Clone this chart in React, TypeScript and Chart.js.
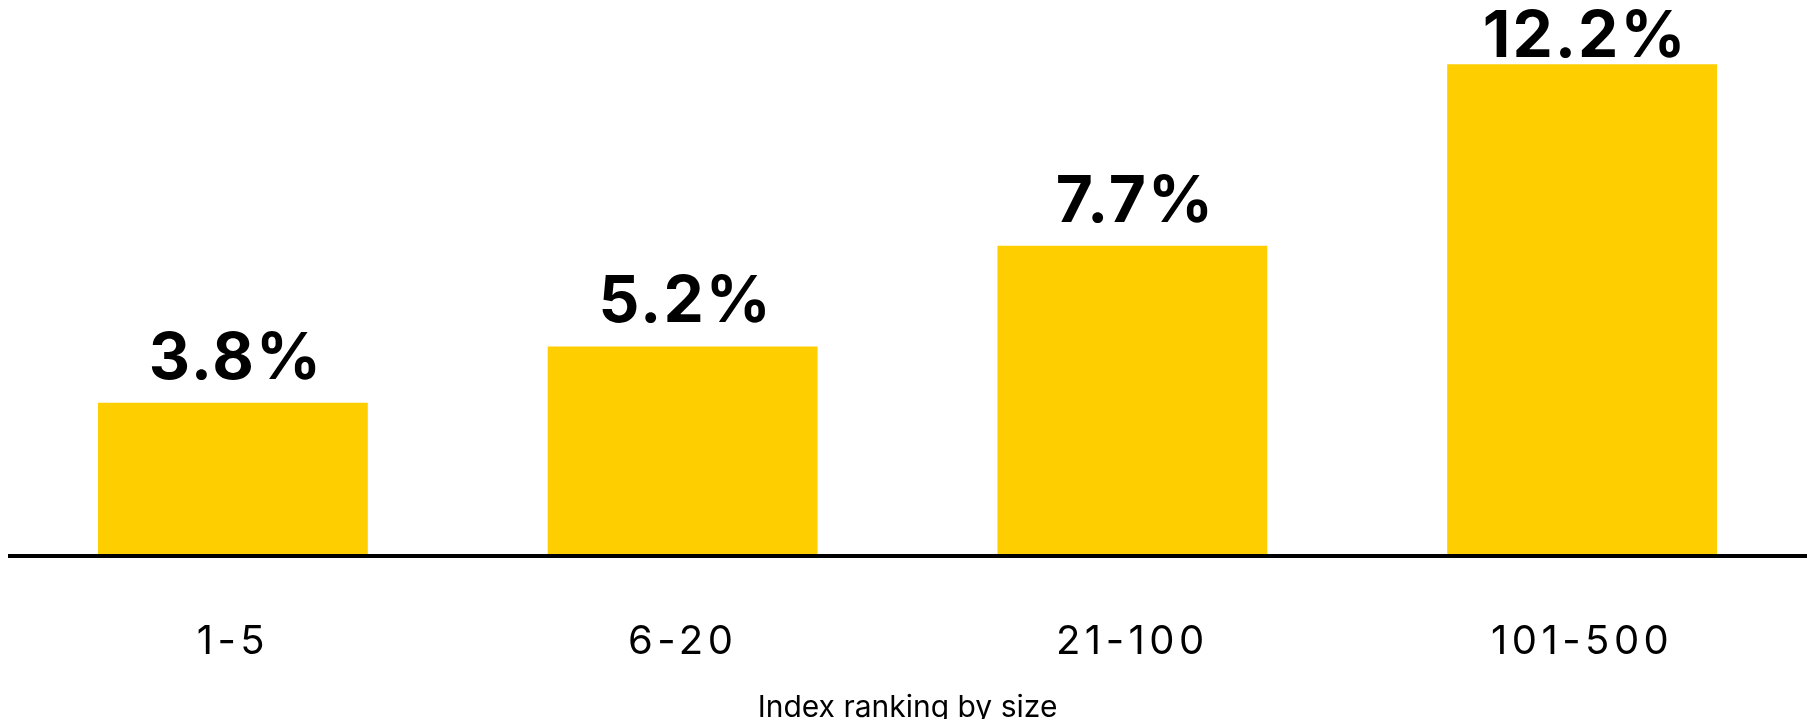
import React, { useEffect, useRef } from "react";
import { Chart, registerables } from "chart.js";

Chart.register(...registerables);

const categories: string[] = ["1-5", "6-20", "21-100", "101-500"];
const values: number[] = [3.8, 5.2, 7.7, 12.2];
const valueLabels: string[] = ["3.8%", "5.2%", "7.7%", "12.2%"];
const axisTitle = "Index ranking by size";

const FONT = "Inter, 'Noto Sans', sans-serif";

const valueLabelPlugin = {
  id: "valueLabels",
  afterDatasetsDraw(chart: any) {
    // wider tracking for the category tick labels drawn after the datasets
    (chart.ctx as any).letterSpacing = "4.5px";
  },
  afterDraw(chart: any) {
    const ctx = chart.ctx;
    const meta = chart.getDatasetMeta(0);
    const area = chart.chartArea;
    ctx.save();
    (ctx as any).letterSpacing = "2px";
    ctx.font = `bold 64px ${FONT}`;
    ctx.fillStyle = "#000000";
    ctx.textAlign = "center";
    ctx.textBaseline = "alphabetic";
    meta.data.forEach((bar: any, i: number) => {
      const y = Math.max(bar.y - 24, area.top + 25);
      ctx.fillText(valueLabels[i], bar.x + 3, y);
    });
    ctx.restore();
    (ctx as any).letterSpacing = "0px";
  },
};

export default function App() {
  const ref = useRef<HTMLCanvasElement | null>(null);
  useEffect(() => {
    if (!ref.current) return;
    const chart = new Chart(ref.current, {
      type: "bar",
      data: {
        labels: categories,
        datasets: [
          {
            data: values,
            backgroundColor: "#FFCE00",
            borderWidth: 0,
            barPercentage: 0.6,
            categoryPercentage: 1,
          },
        ],
      },
      options: {
        animation: false,
        responsive: true,
        maintainAspectRatio: false,
        layout: { padding: { top: 24, left: 0, right: 0, bottom: 0 } },
        plugins: {
          legend: { display: false },
          tooltip: { enabled: false },
        },
        scales: {
          x: {
            grid: {
              display: true,
              drawOnChartArea: false,
              drawTicks: true,
              tickLength: 66,
              color: "rgba(0,0,0,0)",
            },
            border: { display: true, color: "#000000", width: 4, z: 1 },
            ticks: {
              z: 1,
              padding: 0,
              color: "#000000",
              font: { family: FONT, size: 40, lineHeight: 1 },
            },
            title: {
              display: true,
              text: axisTitle,
              color: "#000000",
              font: { family: FONT, size: 30, lineHeight: 1 },
              padding: { top: 31, bottom: 4 },
            },
          },
          y: {
            display: false,
            min: 0,
            max: 13,
          },
        },
      },
      plugins: [valueLabelPlugin],
    });
    return () => chart.destroy();
  }, []);
  return (
    <div style={{ position: "relative", width: "100%", height: "719px", marginBottom: "-8px" }}>
      <canvas ref={ref} />
    </div>
  );
}
